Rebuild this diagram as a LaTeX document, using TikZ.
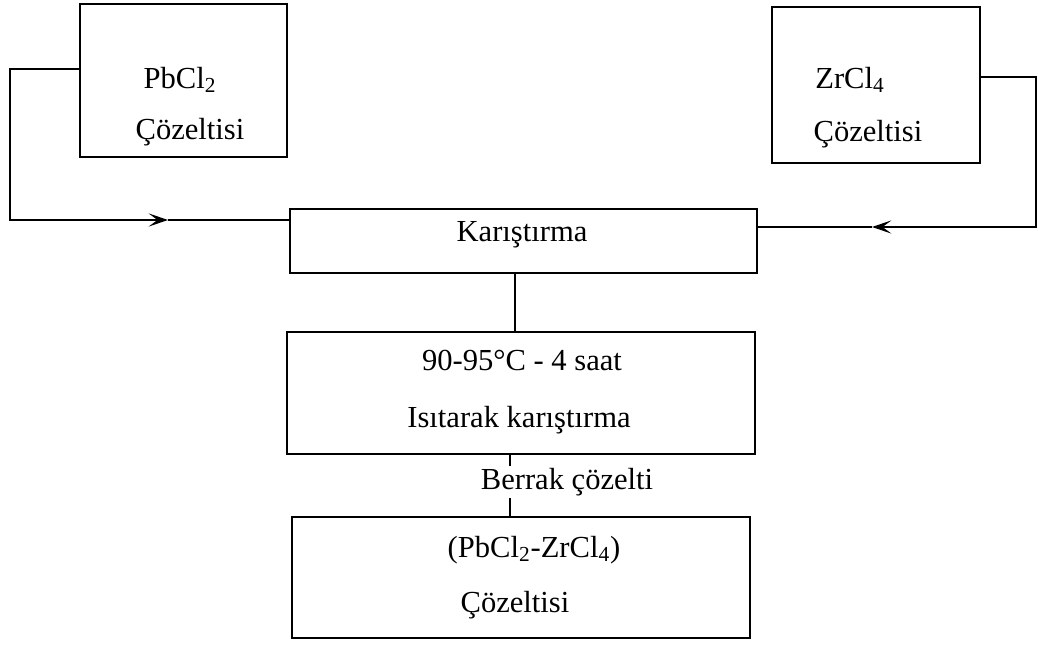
\documentclass[tikz,border=0pt]{standalone}
\usepackage{fontspec}
\setmainfont{Liberation Serif}
\usetikzlibrary{arrows.meta}

\begin{document}
\begin{tikzpicture}[x=0.02cm, y=0.02cm,
  box/.style={draw, line width=1.4pt, inner sep=0pt},
  txt/.style={inner sep=0pt, font=\fontsize{17.4}{20}\selectfont},
  flow/.style={line width=1.3pt, -{Stealth[length=11pt,width=7.5pt,inset=5pt]}},
  line/.style={line width=1.1pt}]
\useasboundingbox (0,0) rectangle (1038,-648);
% kutular
\node[box, minimum width=4.14cm, minimum height=3.06cm] (pb) at (183.5,-80.5) {};
\node[box, minimum width=4.16cm, minimum height=3.12cm] (zr) at (876,-85) {};
\node[box, minimum width=9.34cm, minimum height=1.28cm] (kar) at (523.5,-241) {};
\node[box, minimum width=9.36cm, minimum height=2.44cm] (isi) at (521,-393) {};
\node[box, minimum width=9.16cm, minimum height=2.42cm] (son) at (521,-577.5) {};
% yazilar
\node[txt] (pbtxt) at (180,-80) {PbCl\textsubscript{2}};
\node[txt] (pbcoz) at (190,-132) {Çözeltisi};
\node[txt] (zrtxt) at (850,-80) {ZrCl\textsubscript{4}};
\node[txt] (zrcoz) at (868,-134) {Çözeltisi};
\node[txt] (kartxt) at (522,-235) {Karıştırma};
\node[txt] (isisic) at (522,-360) {90-95°C - 4 saat};
\node[txt] (isitxt) at (519,-420) {Isıtarak karıştırma};
\node[txt] (sontxt) at (534,-550) {(PbCl\textsubscript{2}-ZrCl\textsubscript{4})};
\node[txt] (soncoz) at (515,-605) {Çözeltisi};
% baglantilar
\coordinate (l1) at (10,-69);
\coordinate (l2) at (10,-220);
\coordinate (larr) at (168,-220);
\coordinate (r1) at (1036,-77);
\coordinate (r2) at (1036,-227);
\coordinate (rarr) at (872,-227);
\draw[flow] (l1 -| pb.west) -- (l1) -- (l2) -- (larr);
\draw[line] (larr) -- (larr -| kar.west);
\draw[flow] (r1 -| zr.east) -- (r1) -- (r2) -- (rarr);
\draw[line] (rarr) -- (rarr -| kar.east);
\draw[line] (kar.255) -- (kar.255 |- isi.north);
\draw[line] (isi.260) -- (isi.260 |- son.north);
\node[txt, fill=white, inner ysep=1pt] (berrak) at (567,-482) {Berrak çözelti};
\end{tikzpicture}
\end{document}
